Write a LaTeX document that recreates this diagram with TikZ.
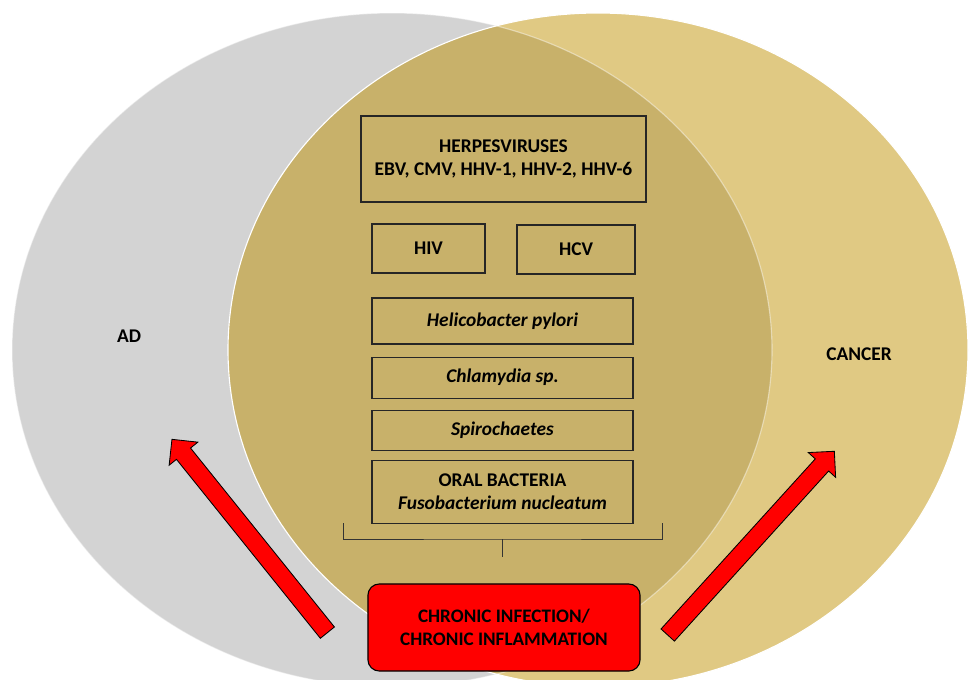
\documentclass[tikz,border=0pt]{standalone}
\usepackage{fontspec}
\setmainfont{Carlito}
\usetikzlibrary{positioning, shapes.arrows}
\definecolor{adgray}{RGB}{211,211,211}
\definecolor{cancergold}{RGB}{224,201,131}
\definecolor{overlapgold}{RGB}{200,177,106}
\definecolor{alarmred}{RGB}{255,0,0}

\begin{document}
\begin{tikzpicture}[
        x=0.025cm, y=-0.025cm,
        agente/.style={
            rectangle,
            draw=black!85,
            line width=0.8pt,
            align=center,
            inner sep=0pt,
            minimum width=6.525cm,
            font=\bfseries\fontsize{13.8}{16.2}\selectfont
        },
        rotulo/.style={font=\bfseries\fontsize{13.8}{16.2}\selectfont},
        cronica/.style={
            rectangle,
            rounded corners=8pt,
            draw=black,
            line width=0.8pt,
            fill=alarmred,
            align=center,
            minimum width=6.8cm,
            minimum height=2.175cm,
            font=\bfseries\fontsize{13.6}{16.4}\selectfont
        },
        flecha/.style={
            single arrow,
            draw=black,
            line width=0.6pt,
            fill=alarmred,
            inner xsep=0pt,
            inner ysep=0.215cm,
            minimum height=6.2cm,
            single arrow head extend=0.235cm,
            single arrow tip angle=90
        }
    ]
        \useasboundingbox (0,0) rectangle (969,679);

        % circles
        \begin{scope}
            \clip (0,0) rectangle (969,679);
            \fill[adgray] (392,350) ellipse [x radius=380, y radius=337];
            \fill[cancergold] (598,350) ellipse [x radius=370, y radius=337];
            \begin{scope}
                \clip (392,350) ellipse [x radius=380, y radius=337];
                \fill[overlapgold] (598,350) ellipse [x radius=370, y radius=337];
            \end{scope}
            \draw[white, line width=0.8pt] (598,350) ellipse [x radius=370, y radius=337];
            \draw[white, opacity=0.45, line width=0.8pt] (392,350) ellipse [x radius=380, y radius=337];
        \end{scope}

        \node[rotulo] (ad) at (129,336) {AD};
        \node[rotulo] (cancer) at (859,354) {CANCER};

        \node[agente, minimum width=7.125cm, minimum height=2.15cm] (herpes) at (503.5,159) {
            HERPESVIRUSES\\EBV, CMV, HHV-1, HHV-2, HHV-6
        };
        \node[agente, minimum width=2.825cm, minimum height=1.225cm] (hiv) at (428.5,248.5) {HIV};
        \node[agente, minimum width=2.95cm, minimum height=1.225cm] (hcv) at (576,249.5) {HCV};

        \node[agente, minimum height=1.15cm] (helico) at (502.5,321) {\textit{Helicobacter pylori}};
        \node[agente, minimum height=1.025cm, below=0.3cm of helico] (chlamydia) {\textit{Chlamydia sp.}};
        \node[agente, minimum height=1.0cm, below=0.275cm of chlamydia] (spiro) {\textit{Spirochaetes}};
        \node[agente, minimum height=1.575cm, below=0.225cm of spiro] (oral) {
            ORAL BACTERIA\\\textit{Fusobacterium nucleatum}
        };

        % bracket
        \coordinate (llave) at (502,539);
        \coordinate (llaveL) at (343,523);
        \coordinate (llaveR) at (662,523);
        \coordinate (llaveS) at (502,557);
        \draw[black!80, line width=0.6pt] (llaveL) |- (llave) -| (llaveR);
        \draw[black!80, line width=0.6pt] (llave) -- (llaveS);

        \node[cronica] (cronica) at (504,627.5) {
            CHRONIC INFECTION/\\CHRONIC INFLAMMATION
        };

        \node[flecha, rotate=128.8] (haciaAD) at (252.5,539.5) {};
        \node[flecha, rotate=47.8] (haciaCancer) at (748,546.5) {};
    \end{tikzpicture}
\end{document}
